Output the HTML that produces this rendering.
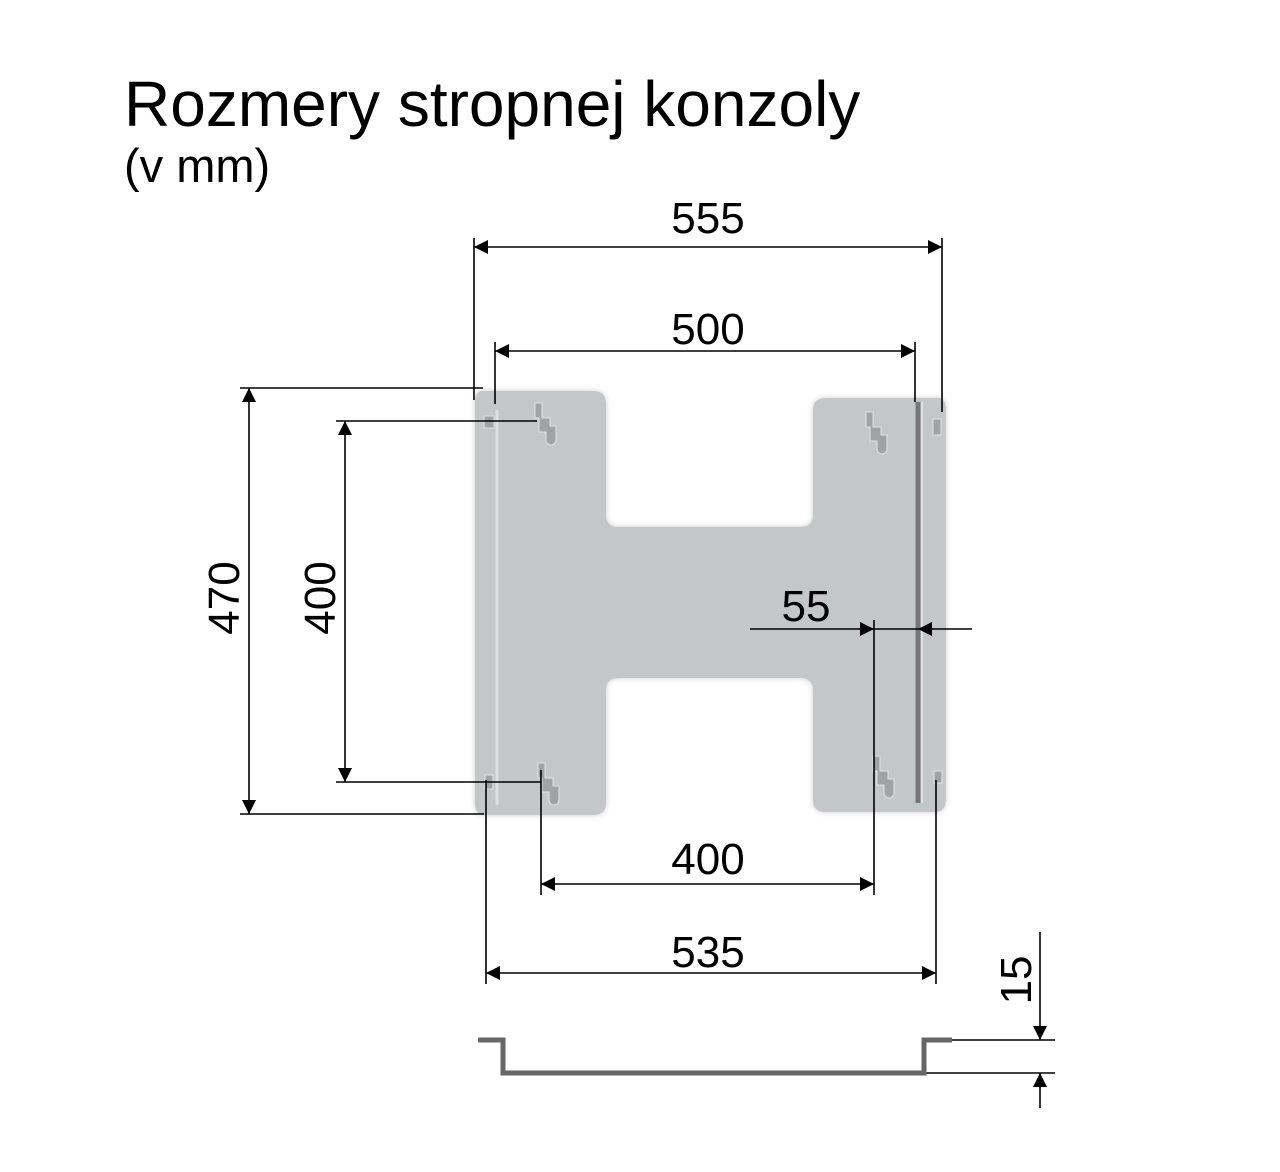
<!DOCTYPE html>
<html><head><style>body{margin:0;background:#fff}svg{display:block}</style></head>
<body>
<svg width="1280" height="1172" viewBox="0 0 1280 1172" xmlns="http://www.w3.org/2000/svg" font-family="Liberation Sans, sans-serif">
<defs>
<marker id="a" viewBox="0 0 10 10" refX="10" refY="5" markerWidth="14" markerHeight="14" markerUnits="userSpaceOnUse" orient="auto-start-reverse"><path d="M0,0 L10,5 L0,10 z" fill="#000"/></marker>
<filter id="sh" x="-10%" y="-10%" width="120%" height="120%"><feGaussianBlur stdDeviation="3"/></filter>
</defs>
<text x="124" y="126" font-size="64">Rozmery stropnej konzoly</text>
<text x="124" y="182" font-size="47">(v mm)</text>

<path d="M483,391 H593 Q606,391 606,404 V515 Q606,527 618,527 H800 Q813,527 813,515 V410 Q813,398 826,398 H938 Q946,398 946,410 V798 Q946,812 935,812 H826 Q813,812 813,800 V690 Q813,678 800,678 H618 Q606,678 606,690 V803 Q606,815 593,815 H485 Q475,815 475,803 V402 Q475,391 483,391 Z" fill="#aaa" filter="url(#sh)" opacity="0.6"/>
<path d="M483,391 H593 Q606,391 606,404 V515 Q606,527 618,527 H800 Q813,527 813,515 V410 Q813,398 826,398 H938 Q946,398 946,410 V798 Q946,812 935,812 H826 Q813,812 813,800 V690 Q813,678 800,678 H618 Q606,678 606,690 V803 Q606,815 593,815 H485 Q475,815 475,803 V402 Q475,391 483,391 Z" fill="#c3c7c8"/>
<line x1="497" y1="410" x2="497" y2="805" stroke="#dde0e0" stroke-width="3"/>
<line x1="918" y1="402" x2="918" y2="803" stroke="#777" stroke-width="5"/>
<line x1="922" y1="402" x2="922" y2="803" stroke="#e0e3e3" stroke-width="2"/>
<g fill="#9fa3a4" stroke="#e2e4e4" stroke-width="1">
<path d="M535,403 h7 v15 h8 v8 h6 v14 a5,5 0 0 1 -10,0 v-8 h-7 v-14 h-4 z"/>
<path d="M866,412 h7 v15 h8 v8 h6 v14 a5,5 0 0 1 -10,0 v-8 h-7 v-14 h-4 z"/>
<path d="M538,763 h7 v15 h8 v8 h6 v14 a5,5 0 0 1 -10,0 v-8 h-7 v-14 h-4 z"/>
<path d="M873,756 h7 v15 h8 v8 h6 v14 a5,5 0 0 1 -10,0 v-8 h-7 v-14 h-4 z"/>
<rect x="484" y="416" width="10" height="12"/><rect x="485" y="775" width="8" height="14"/>
<rect x="933" y="419" width="8" height="16"/><rect x="934" y="771" width="8" height="12"/>
</g>

<g stroke="#000" stroke-width="1.6" fill="none">
<line x1="474" y1="238" x2="474" y2="400"/><line x1="942" y1="238" x2="942" y2="412"/>
<line x1="474" y1="247" x2="942" y2="247" marker-start="url(#a)" marker-end="url(#a)"/>
<line x1="495" y1="342" x2="495" y2="404"/><line x1="915" y1="342" x2="915" y2="402"/>
<line x1="495" y1="351" x2="915" y2="351" marker-start="url(#a)" marker-end="url(#a)"/>
<line x1="240" y1="388" x2="483" y2="388"/><line x1="240" y1="814" x2="484" y2="814"/>
<line x1="249" y1="388" x2="249" y2="814" marker-start="url(#a)" marker-end="url(#a)"/>
<line x1="336" y1="421" x2="537" y2="421"/><line x1="336" y1="782" x2="541" y2="782"/>
<line x1="345" y1="421" x2="345" y2="782" marker-start="url(#a)" marker-end="url(#a)"/>
<line x1="541" y1="770" x2="541" y2="895"/><line x1="874" y1="620" x2="874" y2="895"/>
<line x1="541" y1="884" x2="874" y2="884" marker-start="url(#a)" marker-end="url(#a)"/>
<line x1="486" y1="780" x2="486" y2="984"/><line x1="936" y1="780" x2="936" y2="984"/>
<line x1="486" y1="973" x2="936" y2="973" marker-start="url(#a)" marker-end="url(#a)"/>
<line x1="750" y1="629" x2="874" y2="629" marker-end="url(#a)"/>
<line x1="972" y1="629" x2="918" y2="629" marker-end="url(#a)"/>
<line x1="874" y1="629" x2="918" y2="629"/>
<line x1="952" y1="1040" x2="1055" y2="1040"/><line x1="924" y1="1073" x2="1055" y2="1073"/>
<line x1="1040" y1="932" x2="1040" y2="1040" marker-end="url(#a)"/>
<line x1="1040" y1="1108" x2="1040" y2="1073" marker-end="url(#a)"/>
</g>
<path d="M478,1040 H503 V1073 H924 V1040 H952" fill="none" stroke="#666" stroke-width="5"/>

<g font-size="44" text-anchor="middle">
<text x="708" y="233">555</text>
<text x="708" y="344">500</text>
<text x="708" y="874">400</text>
<text x="708" y="967">535</text>
<text x="806" y="621">55</text>
<text transform="translate(239,598) rotate(-90)">470</text>
<text transform="translate(335,598) rotate(-90)">400</text>
<text transform="translate(1031,980) rotate(-90)">15</text>
</g>
</svg>
</body></html>
